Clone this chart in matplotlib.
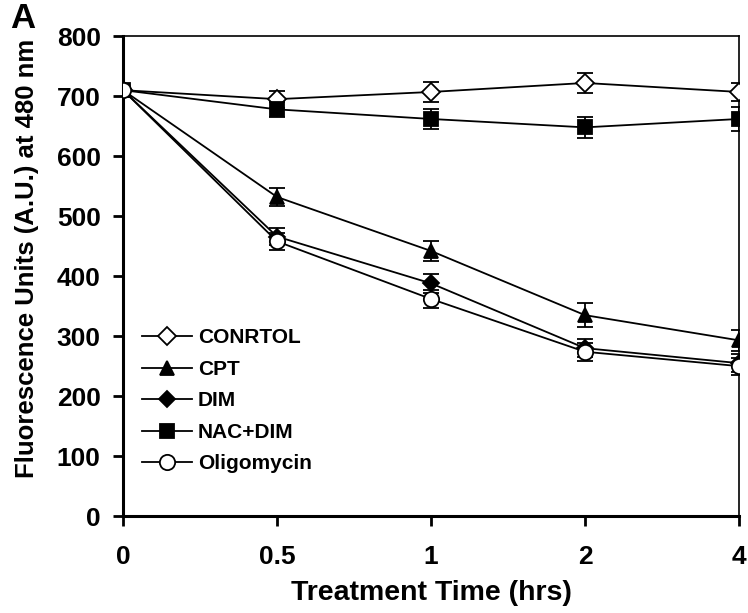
import matplotlib.pyplot as plt
from matplotlib.lines import Line2D
import numpy as np

plt.rcParams['font.family'] = ['Liberation Sans', 'DejaVu Sans']
plt.rcParams['font.weight'] = 'bold'

# treatment times (plotted as evenly spaced categories)
times = ['0', '0.5', '1', '2', '4']

control = [710, 695, 707, 722, 707]
control_err = [0, 14, 16, 16, 15]
cpt = [710, 532, 442, 335, 293]
cpt_err = [0, 15, 16, 20, 18]
dim = [710, 466, 388, 280, 255]
dim_err = [0, 14, 16, 15, 15]
nac_dim = [710, 678, 662, 648, 662]
nac_dim_err = [0, 12, 17, 17, 20]
oligo = [710, 458, 362, 274, 250]
oligo_err = [0, 14, 15, 15, 14]

series = [
    ('CONRTOL', control, control_err, 'D', 'white', 9),
    ('CPT', cpt, cpt_err, '^', 'black', 10),
    ('DIM', dim, dim_err, 'D', 'black', 8),
    ('NAC+DIM', nac_dim, nac_dim_err, 's', 'black', 10),
    ('Oligomycin', oligo, oligo_err, 'o', 'white', 11),
]

fig = plt.figure(figsize=(7.48, 6.13), dpi=100)
ax = fig.add_axes([0.1644, 0.158, 0.8236, 0.783])

x = np.arange(len(times))
handles = []
for name, y, err, mk, fc, ms in series:
    ax.errorbar(x, y, yerr=err, color='black', lw=1.3, marker=mk, ms=ms,
                mfc=fc, mec='black', mew=1.3, capsize=6, elinewidth=1.3,
                capthick=1.3, zorder=3)
    # legend entry without the error bar
    handles.append(Line2D([], [], color='black', lw=1.3, marker=mk, ms=ms,
                          mfc=fc, mec='black', mew=1.3, label=name))

ax.set_xlim(0, 4)
ax.set_ylim(0, 800)
ax.set_xticks(x)
ax.set_xticklabels(times)
ax.set_yticks(np.arange(0, 801, 100))
ax.tick_params(axis='both', direction='out', length=7, width=2,
               labelsize=19, pad=14)
ax.tick_params(axis='y', pad=9)
for lab in ax.get_xticklabels() + ax.get_yticklabels():
    lab.set_fontweight('bold')

ax.spines['left'].set_linewidth(2.2)
ax.spines['bottom'].set_linewidth(2.2)
ax.spines['top'].set_linewidth(1.2)
ax.spines['right'].set_linewidth(1.2)

ax.set_xlabel('Treatment Time (hrs)', fontsize=20.5, fontweight='bold', labelpad=8)
ax.set_ylabel('Fluorescence Units (A.U.) at 480 nm', fontsize=18.5,
              fontweight='bold')
ax.yaxis.set_label_coords(-0.137, 0.538)

leg = ax.legend(handles=handles, loc='lower left', bbox_to_anchor=(0.0, 0.05),
                frameon=False, fontsize=15, handlelength=2.4,
                handletextpad=0.3, labelspacing=0.6, borderaxespad=0.5)
for t in leg.get_texts():
    t.set_fontweight('bold')

fig.text(0.013, 0.9545, 'A', fontsize=25, fontweight='bold', va='baseline', ha='left')

fig.savefig('out.png', dpi=100)
